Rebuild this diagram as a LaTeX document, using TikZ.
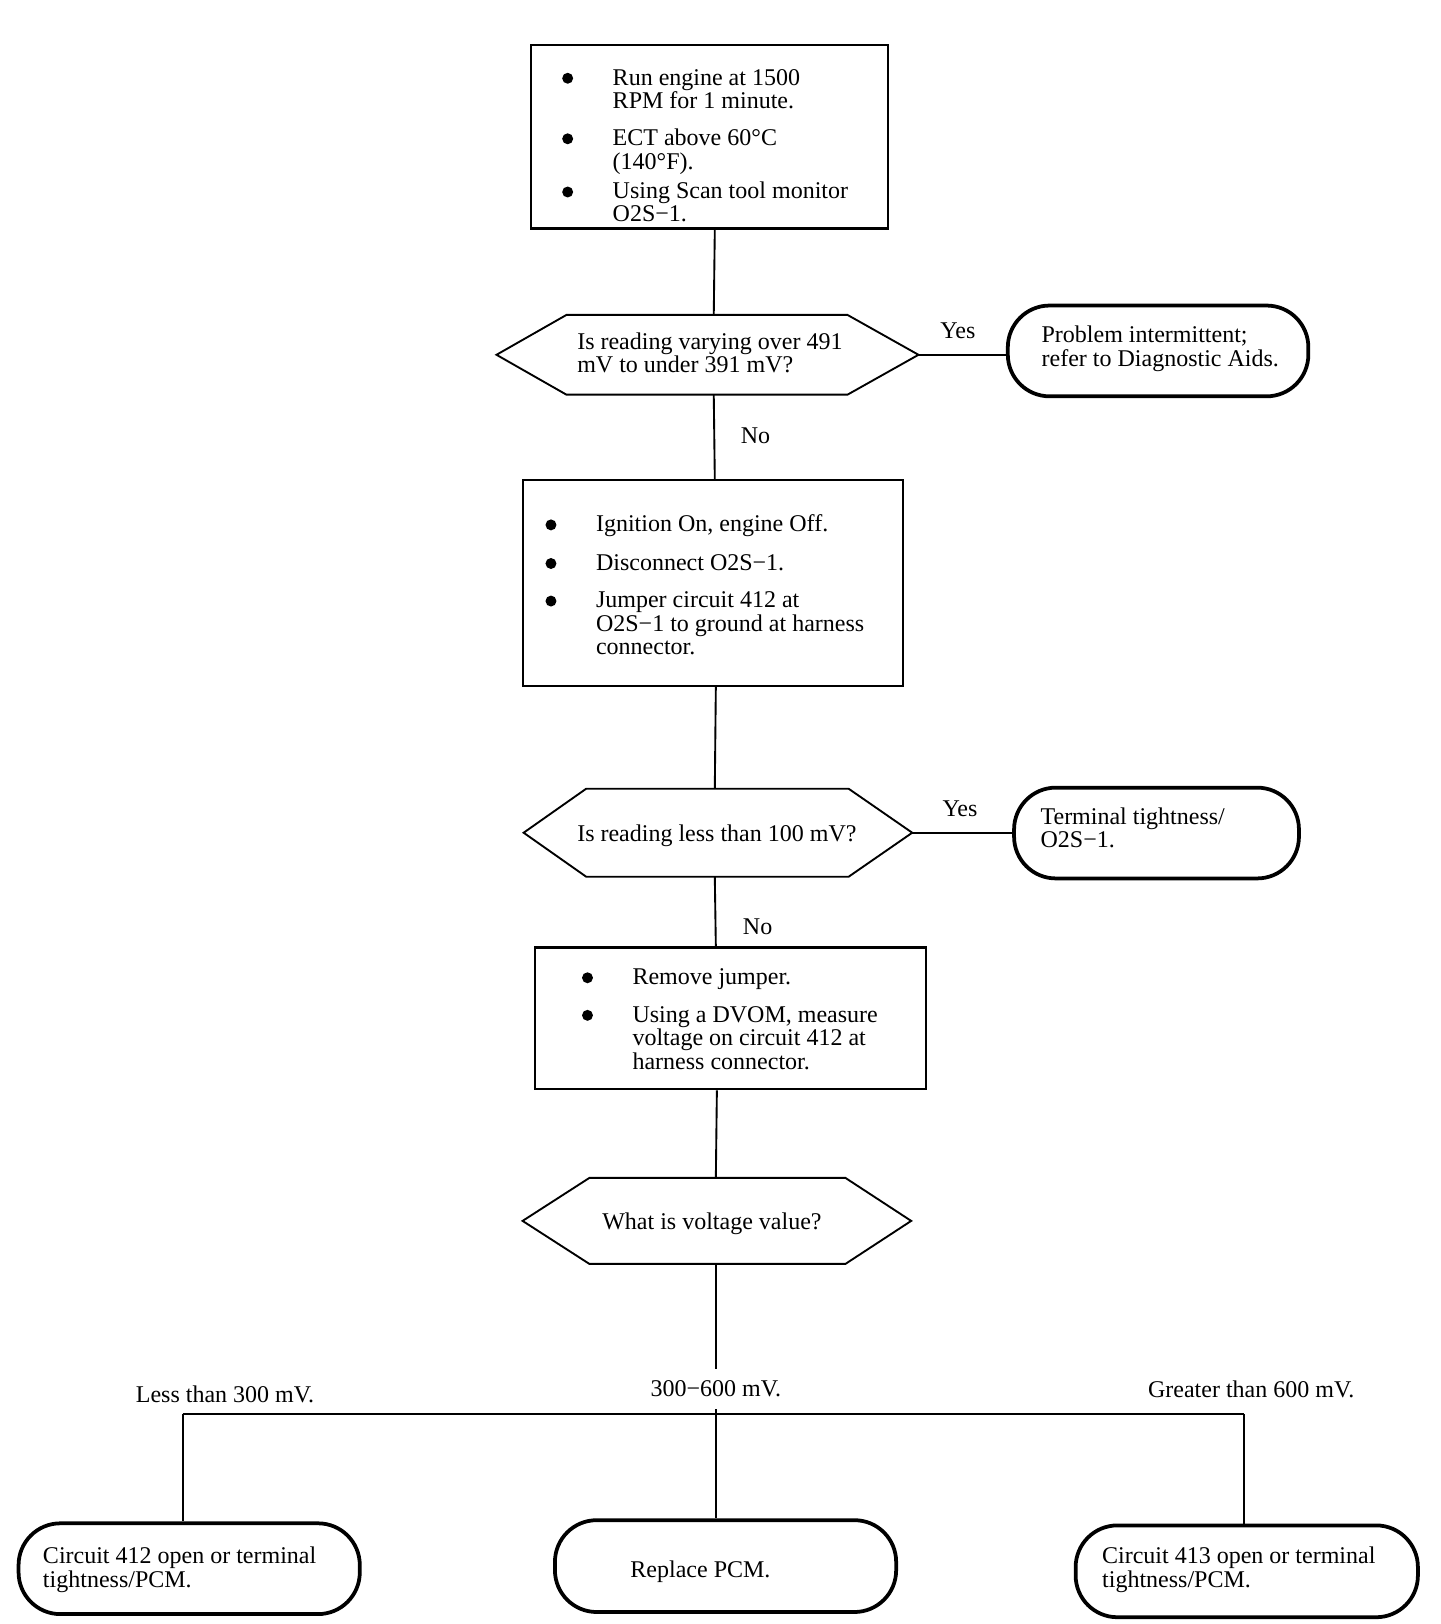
\documentclass[tikz,border=0pt]{standalone}
\usepackage{fontspec}
\setmainfont{Liberation Serif}
\usetikzlibrary{calc}
\newcommand\mlines[1]{\begin{tabular}[t]{@{}l@{}}#1\end{tabular}}
\begin{document}
\begin{tikzpicture}[x=1pt,y=-1pt,
  box/.style={draw, line width=2pt, inner sep=0pt, anchor=north west},
  term/.style={draw, line width=3.6pt, rounded corners=40pt, inner sep=0pt, anchor=north west},
  hexarea/.style={inner sep=0pt},
  hexline/.style={line width=1.8pt, line join=miter},
  txt/.style={anchor=base west, inner sep=0pt, font=\fontsize{23}{22}\selectfont},
  bul/.style={circle, fill, inner sep=0pt, minimum size=10.5pt},
  conn/.style={line width=1.8pt},
  lbl/.style={inner sep=0pt, font=\fontsize{23}{22}\selectfont},
  gaplbl/.style={fill=white, inner xsep=2pt, inner ysep=11pt, font=\fontsize{23}{22}\selectfont}
]
\useasboundingbox[fill=white] (0,0) rectangle (1380,1556.3);

% ---------- box 1
\node[box, minimum width=342pt, minimum height=176pt] (b1) at (508,42) {};
\node[bul] (b1d1) at (544,75) {};
\node[txt] (b1t1) at (587,81.5) {\mlines{Run engine at 1500\\RPM for 1 minute.}};
\node[bul] (b1d2) at (544,133) {};
\node[txt] (b1t2) at (587,139.5) {\mlines{ECT above 60°C\\(140°F).}};
\node[bul] (b1d3) at (544,184) {};
\node[txt] (b1t3) at (587,190.5) {\mlines{Using Scan tool monitor\\O2S−1.}};

% ---------- hexagon 1
\node[hexarea, minimum width=404pt, minimum height=76pt] (h1) at (678,340) {};
\draw[hexline] (h1.west) -- ($(h1.north west)+(67,0)$) -- ($(h1.north east)+(-68,0)$)
  -- (h1.east) -- ($(h1.south east)+(-68,0)$) -- ($(h1.south west)+(67,0)$) -- cycle;
\node[txt] (h1t) at (553,334.5) {\mlines{Is reading varying over 491\\mV to under 391 mV?}};

% ---------- terminal 1
\node[term, minimum width=288pt, minimum height=87pt] (t1) at (964,291) {};
\node[txt] (t1t) at (998,328.5) {\mlines{Problem intermittent;\\refer to Diagnostic Aids.}};

% ---------- box 2
\node[box, minimum width=364pt, minimum height=197pt] (b2) at (500,459) {};
\node[bul] (b2d1) at (528,503) {};
\node[txt] (b2t1) at (571,509.5) {Ignition On, engine Off.};
\node[bul] (b2d2) at (528,540) {};
\node[txt] (b2t2) at (571,546.5) {Disconnect O2S−1.};
\node[bul] (b2d3) at (528,576) {};
\node[txt] (b2t3) at (571,582.5) {\mlines{Jumper circuit 412 at\\O2S−1 to ground at harness\\connector.}};

% ---------- hexagon 2
\node[hexarea, minimum width=372pt, minimum height=84pt] (h2) at (688,798) {};
\draw[hexline] (h2.west) -- ($(h2.north west)+(60,0)$) -- ($(h2.north east)+(-61,0)$)
  -- (h2.east) -- ($(h2.south east)+(-61,0)$) -- ($(h2.south west)+(60,0)$) -- cycle;
\node[txt] (h2t) at (553,806.5) {Is reading less than 100 mV?};

% ---------- terminal 2
\node[term, minimum width=273pt, minimum height=87pt] (t2) at (970,753) {};
\node[txt] (t2t) at (997,790.5) {\mlines{Terminal tightness/\\O2S−1.}};

% ---------- box 3
\node[box, minimum width=374pt, minimum height=136pt] (b3) at (512,907) {};
\node[bul] (b3d1) at (563,937) {};
\node[txt] (b3t1) at (606,943.5) {Remove jumper.};
\node[bul] (b3d2) at (563,973) {};
\node[txt] (b3t2) at (606,979.5) {\mlines{Using a DVOM, measure\\voltage on circuit 412 at\\harness connector.}};

% ---------- hexagon 3
\node[hexarea, minimum width=372pt, minimum height=82pt] (h3) at (687,1170) {};
\draw[hexline] (h3.west) -- ($(h3.north west)+(64,0)$) -- ($(h3.north east)+(-63,0)$)
  -- (h3.east) -- ($(h3.south east)+(-63,0)$) -- ($(h3.south west)+(64,0)$) -- cycle;
\node[txt] (h3t) at (577,1178.5) {What is voltage value?};

% ---------- bottom terminals
\node[term, minimum width=327pt, minimum height=87pt] (tL) at (16,1458) {};
\node[txt] (tLt) at (41,1498.5) {\mlines{Circuit 412 open or terminal\\tightness/PCM.}};
\node[term, minimum width=327pt, minimum height=88pt] (tM) at (530,1455) {};
\node[txt] (tMt) at (604,1511.5) {Replace PCM.};
\node[term, minimum width=328pt, minimum height=88pt] (tR) at (1029,1460) {};
\node[txt] (tRt) at (1056,1498.5) {\mlines{Circuit 413 open or terminal\\tightness/PCM.}};

% ---------- connectors
\draw[conn] ($(b1.south)+(5,0)$) -- ($(h1.north)+(6,0)$);
\draw[conn] ($(h1.south)+(6,0)$) -- ($(b2.north)+(2,0)$);
\draw[conn] ($(b2.south)+(3,0)$) -- ($(h2.north)+(-3,0)$);
\draw[conn] ($(h2.south)+(-3,0)$) -- ($(b3.north)+(-14,0)$);
\draw[conn] ($(b3.south)+(-13,0)$) -- ($(h3.north)+(-1,0)$);
\draw[conn] (h1.east) -- (h1.east -| t1.west);
\draw[conn] (h2.east) -- (h2.east -| t2.west);

\coordinate (jl) at (175,1355);
\coordinate (jm) at (686,1355);
\coordinate (jr) at (1192,1355);
\draw[conn] ($(h3.south)+(-1,0)$) -- (jm) -- (jm |- tM.north);
\draw[line width=2.4pt] (jl) -- (jr);
\draw[conn] (jl) -- (jl |- tL.north);
\draw[conn] (jr) -- (jr |- tR.north);

% ---------- labels
\node[lbl] (y1) at (918,317) {Yes};
\node[lbl] (n1) at (724,418) {No};
\node[lbl] (y2) at (920,775) {Yes};
\node[lbl] (n2) at (726,888) {No};
\node[lbl, anchor=west] (lL) at (130,1336) {Less than 300 mV.};
\node[gaplbl] (lM) at (686,1331) {300−600 mV.};
\node[lbl, anchor=west] (lR) at (1100,1331) {Greater than 600 mV.};
\end{tikzpicture}
\end{document}
